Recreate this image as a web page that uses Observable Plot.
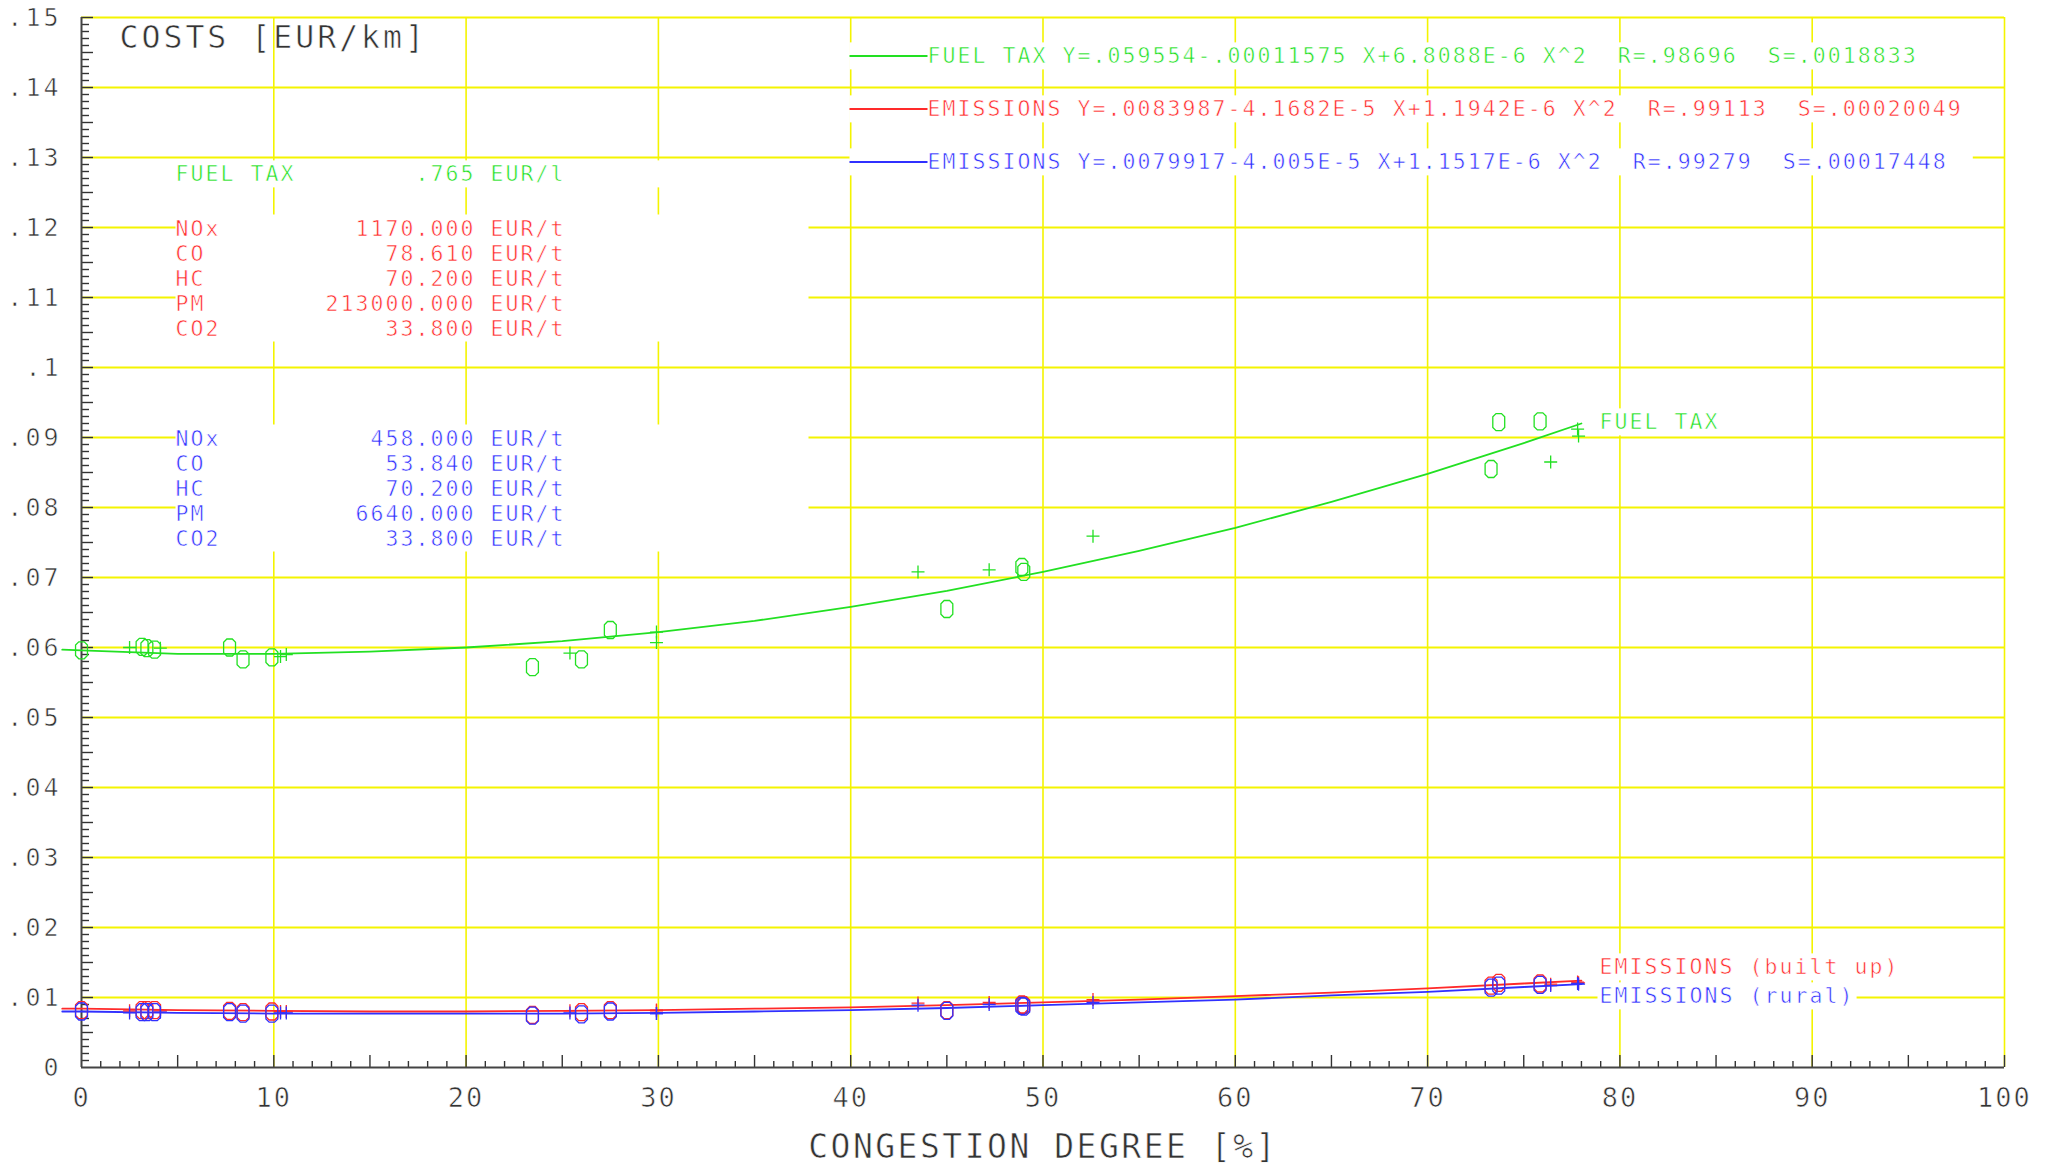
<!DOCTYPE html>
<html>
<head>
<meta charset="utf-8">
<script src="https://cdn.jsdelivr.net/npm/d3@7"></script>
<script src="https://cdn.jsdelivr.net/npm/@observablehq/plot@0.6"></script>
<style>
  html, body { margin: 0; padding: 0; background: #fff; }
  svg text { white-space: pre; }
  g[aria-description="title"] text { letter-spacing: 3px; }
  g[aria-description="xtitle"] text { letter-spacing: 2.5px; }
  g[aria-description="ylabel"] text { letter-spacing: 3px; }
  g[aria-description="xlabel"] text { letter-spacing: 2px; }
  g[aria-description^="annot"] text { letter-spacing: 2.06px; }
  g[aria-description] text { stroke: #fff; stroke-width: 0.6px; paint-order: normal; }
</style>
</head>
<body>
<script>
// ---------------- DATA ----------------
const title = "COSTS [EUR/km]";
const xTitle = "CONGESTION DEGREE [%]";
const xTickLabels = [0, 10, 20, 30, 40, 50, 60, 70, 80, 90, 100];
const yTickLabels = [0, 0.01, 0.02, 0.03, 0.04, 0.05, 0.06, 0.07, 0.08, 0.09, 0.10, 0.11, 0.12, 0.13, 0.14, 0.15];

const fuelTaxName = "FUEL TAX";
const fuelTaxRate = ".765";
const fuelTaxUnit = "EUR/l";
const pollutants = ["NOx", "CO", "HC", "PM", "CO2"];
const builtUpCosts = ["1170.000", "78.610", "70.200", "213000.000", "33.800"];
const ruralCosts = ["458.000", "53.840", "70.200", "6640.000", "33.800"];
const costUnit = "EUR/t";

const equations = [
  "FUEL TAX Y=.059554-.00011575 X+6.8088E-6 X^2  R=.98696  S=.0018833",
  "EMISSIONS Y=.0083987-4.1682E-5 X+1.1942E-6 X^2  R=.99113  S=.00020049",
  "EMISSIONS Y=.0079917-4.005E-5 X+1.1517E-6 X^2  R=.99279  S=.00017448"
];
const curveLabels = ["FUEL TAX", "EMISSIONS (built up)", "EMISSIONS (rural)"];

// fitted curves
const curveX       = [-1, 0, 5, 10, 15, 20, 25, 30, 35, 40, 45, 50, 55, 60, 65, 70, 75, 78];
const fuelCurve    = [0.0597, 0.0596, 0.0591, 0.0591, 0.0594, 0.0600, 0.0609, 0.0622, 0.0638, 0.0658, 0.0681, 0.0708, 0.0738, 0.0771, 0.0808, 0.0848, 0.0892, 0.0920];
const builtUpCurve = [0.0084, 0.0084, 0.0082, 0.0081, 0.0080, 0.0080, 0.0081, 0.0082, 0.0084, 0.0086, 0.0089, 0.0093, 0.0097, 0.0102, 0.0107, 0.0113, 0.0120, 0.0124];
const ruralCurve   = [0.0080, 0.0080, 0.0078, 0.0077, 0.0077, 0.0077, 0.0077, 0.0078, 0.0080, 0.0082, 0.0085, 0.0089, 0.0093, 0.0097, 0.0103, 0.0108, 0.0115, 0.0119];

// "0" measurement markers
const oX       = [0.0, 3.15, 3.4, 3.8, 7.7, 8.4, 9.9, 23.45, 26.0, 27.5, 45.0, 48.9, 49.0, 73.3, 73.7, 75.85];
const oFuel    = [0.0596, 0.0601, 0.0599, 0.0597, 0.0600, 0.0583, 0.0586, 0.0572, 0.0583, 0.0625, 0.0655, 0.0715, 0.0708, 0.0855, 0.0922, 0.0923];
const oBuiltUp = [0.0082, 0.0082, 0.0082, 0.0082, 0.0081, 0.0079, 0.0080, 0.0075, 0.0079, 0.0082, 0.0082, 0.0090, 0.0089, 0.0117, 0.0121, 0.0120];
const oRural   = [0.0080, 0.0079, 0.0079, 0.0079, 0.0079, 0.0077, 0.0077, 0.0074, 0.0076, 0.0080, 0.0081, 0.0088, 0.0087, 0.0114, 0.0117, 0.0118];

// "+" measurement markers
const plusX       = [2.5, 4.1, 10.35, 10.65, 25.4, 29.9, 29.9, 43.5, 47.2, 52.6, 76.4, 77.8, 77.85];
const plusFuel    = [0.0600, 0.0599, 0.0587, 0.0590, 0.0592, 0.0622, 0.0607, 0.0708, 0.0711, 0.0759, 0.0865, 0.0912, 0.0902];
const plusBuiltUp = [0.0081, 0.0081, 0.0080, 0.0080, 0.0081, 0.0082, 0.0081, 0.0092, 0.0093, 0.0097, 0.0119, 0.0122, 0.0121];
const plusRural   = [0.0078, 0.0079, 0.0078, 0.0078, 0.0078, 0.0077, 0.0077, 0.0089, 0.0090, 0.0093, 0.0117, 0.0120, 0.0119];

// ---------------- STYLE / LAYOUT ----------------
const GREEN = "#22e022", RED = "#ff2a2a", BLUE = "#3030ff", YELLOW = "#f4f400", INK = "#333";
const W = 2045, H = 1165, ML = 81, MR = 41, MT = 17, MB = 98;
const pxX = 100 / (W - ML - MR);      // data units per pixel (x)
const pxY = 0.15 / (H - MT - MB);     // data units per pixel (y)
const NB = s => s.replace(/ /g, "\u00a0");

const xGrid = xTickLabels.filter(d => d > 0);
const yGrid = yTickLabels.filter(d => d > 0);
const xMinor = d3.range(1, 101);
const yMinor = d3.range(1, 151);

const rowText = (name, value, unit) => NB(name.padEnd(20 - value.length) + value + " " + unit);
const fuelRow = rowText(fuelTaxName, fuelTaxRate, fuelTaxUnit);
const builtUpBlock = pollutants.map((p, i) => rowText(p, builtUpCosts[i], costUnit)).join("\n");
const ruralBlock = pollutants.map((p, i) => rowText(p, ruralCosts[i], costUnit)).join("\n");

const ovalSymbol = {
  draw(ctx, size) {
    const s = Math.sqrt(size / Math.PI);
    const b = s, a = s * 0.7, c = s * 0.38;
    ctx.moveTo(-a + c, -b); ctx.lineTo(a - c, -b); ctx.lineTo(a, -b + c); ctx.lineTo(a, b - c);
    ctx.lineTo(a - c, b); ctx.lineTo(-a + c, b); ctx.lineTo(-a, b - c); ctx.lineTo(-a, -b + c);
    ctx.closePath();
  }
};
const plusSymbol = {
  draw(ctx, size) {
    const s = Math.sqrt(size / Math.PI);
    ctx.moveTo(-s, 0); ctx.lineTo(s, 0); ctx.moveTo(0, -s); ctx.lineTo(0, s);
  }
};

const pts = (xs, ys) => xs.map((x, i) => ({x, y: ys[i]}));
const annot = (txt, dx, dy, fill, kind, extra = {}) =>
  Plot.text([txt], {frameAnchor: "top-left", dx, dy, text: d => d, textAnchor: "start", lineAnchor: "middle",
                    fontSize: 21.5, fill, ariaDescription: kind, ...extra});

const eqRowsY = [56, 109, 162];
const eqColors = [GREEN, RED, BLUE];

const chart = Plot.plot({
  width: W, height: H,
  marginLeft: ML, marginRight: MR, marginTop: MT, marginBottom: MB,
  x: {domain: [0, 100], axis: null},
  y: {domain: [0, 0.15], axis: null},
  style: {fontFamily: "'DejaVu Sans Mono', monospace", background: "#fff", overflow: "visible"},
  marks: [
    // grid
    Plot.ruleY(yGrid, {y: d => d, stroke: YELLOW, strokeWidth: 2}),
    Plot.ruleX(xGrid, {x: d => d, stroke: YELLOW, strokeWidth: 1.6}),
    // ticks
    Plot.ruleY(yMinor, {y: i => i / 1000, x1: 0, x2: i => (i % 5 === 0 ? 12 : 8) * pxX, stroke: INK, strokeWidth: 1.4}),
    Plot.ruleX(xMinor, {x: d => d, y1: 0, y2: d => (d % 5 === 0 ? 12 : 6) * pxY, stroke: INK, strokeWidth: 1.4}),
    // axis lines
    Plot.ruleX([0], {stroke: "#444", strokeWidth: 2}),
    Plot.ruleY([0], {stroke: "#444", strokeWidth: 2}),
    // tick labels
    Plot.text(yTickLabels, {x: 0, y: d => d, text: d => d === 0 ? "0" : d3.format(".2~f")(d).replace(/^0/, ""),
      textAnchor: "end", lineAnchor: "middle", dx: -20, fontSize: 25, fill: INK, ariaDescription: "ylabel"}),
    Plot.text(xTickLabels, {x: d => d, y: 0, text: d => String(d), lineAnchor: "middle", dy: 31, fontSize: 27, fill: INK, ariaDescription: "xlabel"}),
    Plot.text([xTitle], {frameAnchor: "bottom", lineAnchor: "middle", dy: 80, text: d => d, fontSize: 33, fill: INK, ariaDescription: "xtitle"}),
    Plot.text([title], {frameAnchor: "top-left", lineAnchor: "middle", dx: 38, dy: 20, text: d => d, textAnchor: "start", fontSize: 31.5, fill: INK, ariaDescription: "title"}),
    // curves
    Plot.line(pts(curveX, fuelCurve), {x: "x", y: "y", stroke: GREEN, strokeWidth: 1.8}),
    Plot.line(pts(curveX, builtUpCurve), {x: "x", y: "y", stroke: RED, strokeWidth: 1.8}),
    Plot.line(pts(curveX, ruralCurve), {x: "x", y: "y", stroke: BLUE, strokeWidth: 1.8}),
    // markers
    Plot.dot(pts(oX, oFuel), {x: "x", y: "y", symbol: ovalSymbol, r: 8.5, fill: "none", stroke: GREEN, strokeWidth: 1.3}),
    Plot.dot(pts(plusX, plusFuel), {x: "x", y: "y", symbol: plusSymbol, r: 6.5, fill: "none", stroke: GREEN, strokeWidth: 1.3}),
    Plot.dot(pts(oX, oBuiltUp), {x: "x", y: "y", symbol: ovalSymbol, r: 8.5, fill: "none", stroke: RED, strokeWidth: 1.3}),
    Plot.dot(pts(plusX, plusBuiltUp), {x: "x", y: "y", symbol: plusSymbol, r: 6.5, fill: "none", stroke: RED, strokeWidth: 1.3}),
    Plot.dot(pts(oX, oRural), {x: "x", y: "y", symbol: ovalSymbol, r: 8.5, fill: "none", stroke: BLUE, strokeWidth: 1.3}),
    Plot.dot(pts(plusX, plusRural), {x: "x", y: "y", symbol: plusSymbol, r: 6.5, fill: "none", stroke: BLUE, strokeWidth: 1.3}),
    // text blocks
    annot(fuelRow, 94, 157, GREEN, "annot-block"),
    annot(builtUpBlock, 94, 260, RED, "annot-block", {lineHeight: 25 / 21.5}),
    annot(ruralBlock, 94, 470, BLUE, "annot-block", {lineHeight: 25 / 21.5}),
    ...equations.map((eq, i) => annot(NB(eq), 846, eqRowsY[i] - MT, eqColors[i], "annot-eq")),
    annot(NB(curveLabels[0]), 1518, 405, GREEN, "annot-label"),
    annot(NB(curveLabels[1]), 1518, 950, RED, "annot-label"),
    annot(NB(curveLabels[2]), 1518, 979, BLUE, "annot-label")
  ]
});
document.body.append(chart);

// white boxes behind annotation text (gridlines hidden there), plus legend swatches
const ns = "http://www.w3.org/2000/svg";
chart.querySelectorAll('g[aria-description^="annot"]').forEach(g => {
  const kind = g.getAttribute("aria-description");
  const fillColor = g.getAttribute("fill");
  g.querySelectorAll("text").forEach(t => {
    const bb = t.getBBox();
    let x0 = bb.x - 2, x1 = bb.x + bb.width + 2, y0 = bb.y - 1, y1 = bb.y + bb.height + 1;
    if (kind === "annot-block") { x0 = bb.x; x1 = bb.x + 633; }
    if (kind === "annot-eq") { x0 = bb.x - 78; x1 = bb.x + bb.width + 25; }
    const rect = document.createElementNS(ns, "rect");
    rect.setAttribute("x", x0); rect.setAttribute("y", y0);
    rect.setAttribute("width", x1 - x0); rect.setAttribute("height", y1 - y0);
    rect.setAttribute("fill", "#fff");
    rect.setAttribute("stroke", "none");
    if (t.hasAttribute("transform")) rect.setAttribute("transform", t.getAttribute("transform"));
    g.insertBefore(rect, t);
    if (kind === "annot-eq") {
      const ln = document.createElementNS(ns, "line");
      const yc = bb.y + bb.height / 2;
      ln.setAttribute("x1", bb.x - 78); ln.setAttribute("x2", bb.x);
      ln.setAttribute("y1", yc); ln.setAttribute("y2", yc);
      ln.setAttribute("stroke", fillColor || getComputedStyle(t).fill);
      ln.setAttribute("stroke-width", 2);
      if (t.hasAttribute("transform")) ln.setAttribute("transform", t.getAttribute("transform"));
      g.insertBefore(ln, t);
    }
  });
});
</script>
</body>
</html>
